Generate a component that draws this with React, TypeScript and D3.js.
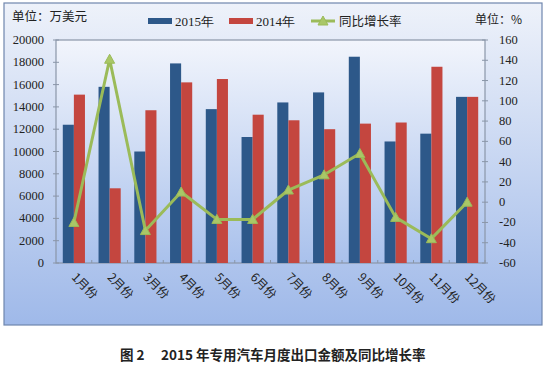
import React from "react";
import { scaleBand, scaleLinear, line } from "d3";

const months = ["1月份", "2月份", "3月份", "4月份", "5月份", "6月份", "7月份", "8月份", "9月份", "10月份", "11月份", "12月份"];
const exports2015 = [12400, 15800, 10000, 17900, 13800, 11300, 14400, 15300, 18500, 10900, 11600, 14900];
const exports2014 = [15100, 6700, 13700, 16200, 16500, 13300, 12800, 12000, 12500, 12600, 17600, 14900];
const growth = [-20, 141, -28, 10, -17, -17, 12, 27, 48, -15, -36, 0];
const leftTicks = [0, 2000, 4000, 6000, 8000, 10000, 12000, 14000, 16000, 18000, 20000];
const rightTicks = [-60, -40, -20, 0, 20, 40, 60, 80, 100, 120, 140, 160];

const W = 547;
const H = 369;
const plot = { left: 56, right: 485, top: 40, bottom: 263 };
const serif = "'Liberation Serif', 'DejaVu Serif', serif";
const cjk = "'Noto Sans CJK SC', sans-serif";
const blue = "#2d5889";
const red = "#c4463f";
const green = "#9bbb59";

const App: React.FC = () => {
  const x = scaleBand().domain(months).range([plot.left, plot.right]).paddingInner(0.38).paddingOuter(0.19);
  const yL = scaleLinear().domain([0, 20000]).range([plot.bottom, plot.top]);
  const yR = scaleLinear().domain([-60, 160]).range([plot.bottom, plot.top]);
  const step = x.step();
  const bw = x.bandwidth() / 2;
  const cx = (m: string) => x(m)! + x.bandwidth() / 2;
  const l = line<number>()
    .x((_, i) => cx(months[i]))
    .y((d) => yR(d));

  const tri = (px: number, py: number) => `M${px},${py - 5}L${px + 5},${py + 4}L${px - 5},${py + 4}Z`;

  return (
    <div style={{ position: "absolute", left: 0, top: 0 }}>
      <svg width={W} height={H} style={{ display: "block", background: "#fff" }}>
        <defs>
          <linearGradient id="bg" x1="0" y1="0" x2="0" y2="1">
            <stop offset="0" stopColor="#eef2fa" />
            <stop offset="1" stopColor="#9fb9e9" />
          </linearGradient>
          <linearGradient id="pbg" x1="0" y1="0" x2="0" y2="1">
            <stop offset="0" stopColor="#f2f5fc" />
            <stop offset="1" stopColor="#a9c1ec" />
          </linearGradient>
        </defs>
        <rect x={4} y={3} width={538} height={322} fill="url(#bg)" stroke="#6f86ad" strokeWidth={1.2} />
        <rect
          x={plot.left}
          y={plot.top}
          width={plot.right - plot.left}
          height={plot.bottom - plot.top}
          fill="url(#pbg)"
          stroke="#8a96a8"
          strokeWidth={1.2}
        />

        {/* left axis */}
        {leftTicks.map((t) => (
          <g key={"l" + t}>
            <line x1={plot.left - 3} x2={plot.left + 3} y1={yL(t)} y2={yL(t)} stroke="#8a96a8" />
            <text x={44} y={yL(t) + 4} textAnchor="end" fontFamily={serif} fontSize={12.5} fill="#222">
              {t}
            </text>
          </g>
        ))}
        {/* right axis */}
        {rightTicks.map((t) => (
          <g key={"r" + t}>
            <line x1={plot.right - 3} x2={plot.right + 3} y1={yR(t)} y2={yR(t)} stroke="#8a96a8" />
            <text x={499} y={yR(t) + 4} textAnchor="start" fontFamily={serif} fontSize={12.5} fill="#222">
              {t}
            </text>
          </g>
        ))}
        {/* category ticks */}
        {months.map((m, i) => (
          <line
            key={"c" + m}
            x1={plot.left + step * (i + 1)}
            x2={plot.left + step * (i + 1)}
            y1={plot.bottom}
            y2={plot.bottom - 3}
            stroke="#8a96a8"
          />
        ))}

        {/* bars */}
        {months.map((m, i) => (
          <g key={"b" + m}>
            <rect x={x(m)!} y={yL(exports2015[i])} width={bw} height={plot.bottom - yL(exports2015[i])} fill={blue} />
            <rect x={x(m)! + bw} y={yL(exports2014[i])} width={bw} height={plot.bottom - yL(exports2014[i])} fill={red} />
          </g>
        ))}

        {/* growth line */}
        <path d={l(growth)!} fill="none" stroke={green} strokeWidth={3} strokeLinejoin="round" />
        {growth.map((g, i) => (
          <path key={"t" + i} d={tri(cx(months[i]), yR(g))} fill="#a9c767" stroke={green} strokeWidth={1} />
        ))}

        {/* x labels */}
        {months.map((m) => (
          <text
            key={"x" + m}
            transform={`translate(${cx(m) - 3},${plot.bottom + 15}) rotate(45)`}
            fontFamily={cjk}
            fontSize={12}
            fill="#222"
          >
            {m}
          </text>
        ))}

        {/* units */}
        <text x={12} y={21} fontFamily={cjk} fontSize={12.5} fill="#222">
          单位：万美元
        </text>
        <text x={475} y={24} fontFamily={cjk} fontSize={12} fill="#222">
          单位：%
        </text>

        {/* legend */}
        <rect x={148} y={18} width={24} height={6} fill={blue} />
        <text x={175} y={26} fontFamily={serif} fontSize={13} fill="#222">
          2015年
        </text>
        <rect x={229} y={18} width={24} height={6} fill={red} />
        <text x={256} y={26} fontFamily={serif} fontSize={13} fill="#222">
          2014年
        </text>
        <line x1={311} x2={335} y1={21} y2={21} stroke={green} strokeWidth={3} />
        <path d={tri(323, 21)} fill="#a9c767" stroke={green} />
        <text x={339} y={26} fontFamily={cjk} fontSize={12.5} fill="#222">
          同比增长率
        </text>

        {/* caption */}
        <text x={120} y={360} fontFamily={cjk} fontSize={13.5} fontWeight="bold" fill="#222">
          图 2　 2015 年专用汽车月度出口金额及同比增长率
        </text>
      </svg>
    </div>
  );
};

export default App;
